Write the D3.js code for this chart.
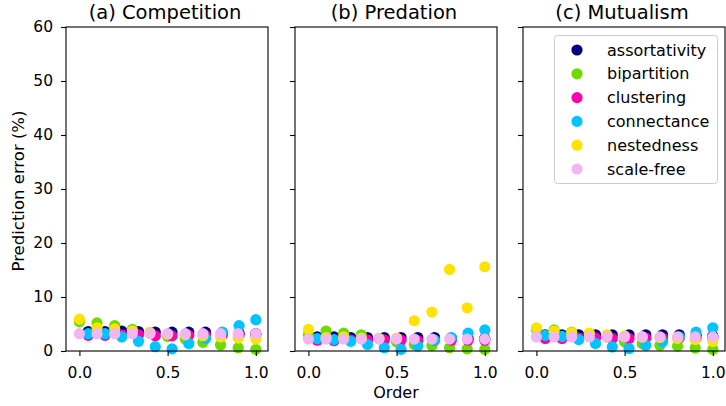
<!DOCTYPE html>
<html>
<head>
<meta charset="utf-8">
<script src="https://cdn.jsdelivr.net/npm/d3@7"></script>
<style>
  body { margin: 0; background: #fff; }
  text { font-family: "DejaVu Sans", sans-serif; fill: #000; }
</style>
</head>
<body>
<script>
// order values: some series sit on the 0.1 grid, others on a shifted grid
var orderGrid = [0, 0.1, 0.2, 0.3, 0.4, 0.5, 0.6, 0.7, 0.8, 0.9, 1.0];
var orderShifted = [0.05, 0.145, 0.24, 0.335, 0.43, 0.525, 0.62, 0.715, 0.81, 0.905, 1.0];

var panelTitles = ["(a) Competition", "(b) Predation", "(c) Mutualism"];
var seriesNames = ["assortativity", "bipartition", "clustering", "connectance", "nestedness", "scale-free"];
var seriesColors = ["#000080", "#6cdb00", "#ff00b0", "#00c4ff", "#ffe300", "#f2b6f0"];
var seriesOrder = [orderShifted, orderGrid, orderShifted, orderShifted, orderGrid, orderGrid];

var yTicks = [0, 10, 20, 30, 40, 50, 60];
var xTicks = [0, 0.5, 1.0];

// prediction error (%) per panel, per series
var competition = [
  [3.6, 3.6, 3.7, 3.6, 3.5, 3.5, 3.5, 3.5, 3.4, 3.3, 3.2],
  [5.4, 5.2, 4.7, 4.0, 3.4, 2.7, 2.2, 1.6, 1.1, 0.6, 0.3],
  [2.9, 2.9, 3.0, 3.0, 2.8, 2.8, 2.9, 2.9, 3.0, 3.0, 3.0],
  [3.2, 3.2, 2.6, 1.8, 0.8, 0.4, 1.4, 2.3, 3.5, 4.7, 5.8],
  [5.9, 4.3, 4.1, 3.7, 3.4, 3.1, 3.0, 2.8, 2.6, 2.4, 2.2],
  [3.2, 3.2, 3.2, 3.2, 3.2, 3.2, 3.2, 3.2, 3.2, 3.2, 3.2]
];
var predation = [
  [2.6, 2.6, 2.5, 2.5, 2.5, 2.5, 2.5, 2.5, 2.4, 2.3, 2.3],
  [3.0, 3.7, 3.3, 3.0, 2.3, 1.7, 1.2, 1.0, 0.6, 0.4, 0.3],
  [2.0, 1.9, 2.0, 2.0, 2.0, 2.0, 1.9, 2.0, 2.0, 2.0, 2.0],
  [2.3, 2.1, 1.8, 1.2, 0.6, 0.3, 0.9, 2.0, 2.5, 3.3, 3.9],
  [4.0, 2.5, 2.6, 2.4, 2.3, 2.4, 5.6, 7.2, 15.1, 8.0, 15.6],
  [2.2, 2.2, 2.2, 2.2, 2.2, 2.2, 2.2, 2.2, 2.2, 2.2, 2.2]
];
var mutualism = [
  [3.0, 3.0, 3.0, 3.0, 3.0, 3.0, 3.0, 3.0, 3.0, 2.9, 2.8],
  [4.0, 3.9, 3.5, 3.2, 2.6, 1.7, 1.4, 1.05, 0.9, 0.55, 0.3],
  [2.3, 2.3, 2.4, 2.4, 2.3, 2.3, 2.4, 2.4, 2.4, 2.4, 2.4],
  [2.9, 2.7, 2.1, 1.4, 0.75, 0.45, 1.05, 1.7, 2.6, 3.5, 4.3],
  [4.3, 3.7, 3.4, 3.3, 3.0, 2.8, 2.6, 2.5, 2.3, 2.1, 1.8],
  [2.6, 2.6, 2.6, 2.6, 2.6, 2.6, 2.6, 2.6, 2.6, 2.6, 2.6]
];
var panels = [competition, predation, mutualism];

// layout of the three panels
var panelLeft = [66, 295, 523],
    panelWidth = 202,
    plotTop = 27,
    plotHeight = 324;

var svg = d3.select("body").append("svg")
    .attr("width", 726)
    .attr("height", 406);

var y = d3.scaleLinear().domain([0, 60]).range([plotTop + plotHeight, plotTop]);

panels.forEach(function(data, p) {
  var x = d3.scaleLinear().domain([-0.076, 1.069])
      .range([panelLeft[p], panelLeft[p] + panelWidth]);

  var g = svg.append("g");

  // points, drawn in legend order so scale-free ends on top
  data.forEach(function(vals, s) {
    var pts = vals.map(function(v, i) { return {x: seriesOrder[s][i], y: v}; });
    g.append("g").selectAll("circle")
        .data(pts)
      .enter().append("circle")
        .attr("cx", function(d) { return x(d.x); })
        .attr("cy", function(d) { return y(d.y); })
        .attr("r", 5.6)
        .style("fill", seriesColors[s]);
  });

  // x axis
  var xa = g.append("g")
      .attr("transform", "translate(0," + (plotTop + plotHeight) + ")")
      .call(d3.axisBottom(x).tickValues(xTicks).tickFormat(d3.format(".1f"))
        .tickSizeOuter(0).tickSize(5).tickPadding(11));
  xa.select(".domain").remove();
  xa.selectAll("text").style("font-size", "15.5px").style("font-family", "DejaVu Sans");
  xa.selectAll("line").attr("stroke", "#000").attr("stroke-width", 1.1);

  // y axis, labels only on the first panel
  var ya = g.append("g")
      .attr("transform", "translate(" + panelLeft[p] + ",0)")
      .call(d3.axisLeft(y).tickValues(yTicks).tickSizeOuter(0).tickSize(5).tickPadding(8));
  ya.select(".domain").remove();
  ya.selectAll("text").style("font-size", "15.5px").style("font-family", "DejaVu Sans");
  ya.selectAll("line").attr("stroke", "#000").attr("stroke-width", 1.1);
  if (p > 0) ya.selectAll("text").remove();

  // frame
  g.append("rect")
      .attr("x", panelLeft[p])
      .attr("y", plotTop)
      .attr("width", panelWidth)
      .attr("height", plotHeight)
      .style("fill", "none")
      .style("stroke", "#000")
      .style("stroke-width", 1.1);

  g.append("text")
      .attr("x", panelLeft[p] + panelWidth / 2 - 2)
      .attr("y", 19)
      .attr("text-anchor", "middle")
      .style("font-size", "19.5px")
      .text(panelTitles[p]);
});

// axis labels
svg.append("text")
    .attr("x", panelLeft[1] + panelWidth / 2)
    .attr("y", 398)
    .attr("text-anchor", "middle")
    .style("font-size", "16px")
    .text("Order");

svg.append("text")
    .attr("transform", "translate(24," + (plotTop + plotHeight / 2 + 2) + ") rotate(-90)")
    .attr("text-anchor", "middle")
    .style("font-size", "16.5px")
    .text("Prediction error (%)");

// legend in the last panel
var legend = svg.append("g");
legend.append("rect")
    .attr("x", 554.5)
    .attr("y", 35.5)
    .attr("width", 163)
    .attr("height", 148)
    .attr("rx", 3)
    .style("fill", "#fff")
    .style("fill-opacity", 0.8)
    .style("stroke", "#ccc")
    .style("stroke-width", 1);

var rows = legend.selectAll("g.row")
    .data(seriesNames)
  .enter().append("g")
    .attr("class", "row")
    .attr("transform", function(d, i) { return "translate(0," + (50 + i * 23.8) + ")"; });
rows.append("circle")
    .attr("cx", 577)
    .attr("r", 5.6)
    .style("fill", function(d, i) { return seriesColors[i]; });
rows.append("text")
    .attr("x", 607)
    .attr("dy", "0.35em")
    .style("font-size", "16px")
    .text(function(d) { return d; });
</script>
</body>
</html>
